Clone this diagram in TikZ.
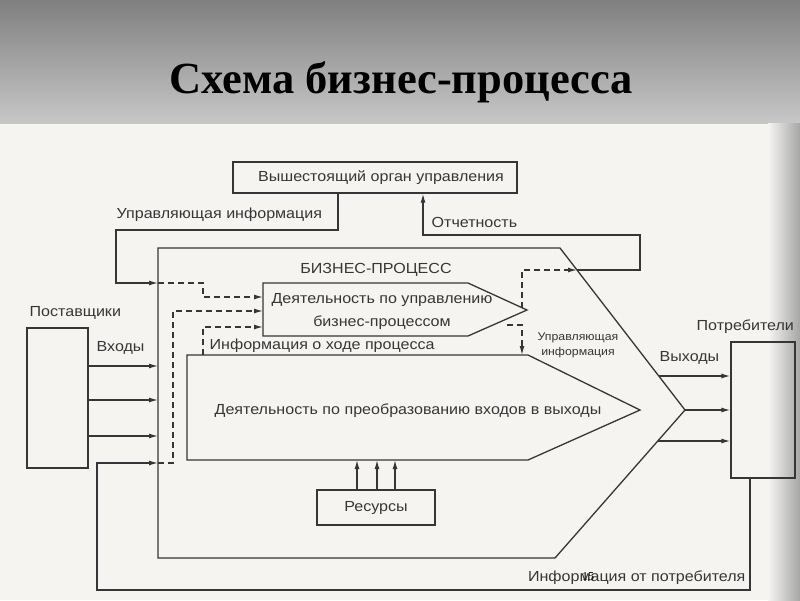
\documentclass[tikz,border=0pt]{standalone}
\usepackage{fontspec}
\setmainfont{Liberation Sans}[FakeStretch=1.1]
\newfontfamily\titlefont{Liberation Serif}
\usetikzlibrary{arrows.meta}

\definecolor{ink}{HTML}{363636}
\definecolor{paper}{HTML}{F6F4F1}

\begin{document}
\begin{tikzpicture}[x=1pt,y=-1pt,line width=1.3pt,draw=ink,
  >={Latex[length=9pt,width=5pt]},
  nodes={text=ink,font=\fontsize{14.6}{23}\selectfont},
  lbl/.style={inner sep=0pt},
  blk/.style={draw,line width=1.3pt},
  dashflow/.style={dash pattern=on 6pt off 4pt}]
	% background
	\fill[paper] (0,123) rectangle (800,600);
	\shade[top color=black!50,bottom color=black!22] (0,0) rectangle (800,123);
	\shade[left color=paper,right color=black!35] (768,123) rectangle (800,600);
	\useasboundingbox (0,0) rectangle (800,600);
	\node (title) [anchor=base,text=black,font=\titlefont\bfseries\fontsize{44.5}{50}\selectfont] at (401,93) {Схема бизнес-процесса};
	
	% boxes
	\node (boss) [blk,minimum width=284pt,minimum height=31pt] at (375,177.5) {};
	\node (bosstxt) [lbl] at (381,178) {Вышестоящий орган управления};
	\node (sup) [blk,minimum width=61pt,minimum height=140pt] at (57.5,398) {};
	\node (cons) [blk,minimum width=64pt,minimum height=136pt] at (763,410) {};
	\node (res) [blk,minimum width=118pt,minimum height=35pt] at (376,507.5) {Ресурсы};
	
	% business process outline
	\coordinate (bp1) at (158,248);
	\coordinate (bp2) at (560,248);
	\coordinate (bptip) at (685,410);
	\coordinate (bp4) at (555,558);
	\coordinate (bp5) at (158,558);
	\draw (bp1) -- (bp2) -- (bptip) -- (bp4) -- (bp5) -- cycle;
	\node (bpname) [lbl] at (376,270) {БИЗНЕС-ПРОЦЕСС};
	
	% management activity
	\coordinate (c1) at (263,283);
	\coordinate (c2) at (468,283);
	\coordinate (ctip) at (527,310);
	\coordinate (c4) at (468,336);
	\coordinate (c5) at (263,336);
	\draw (c1) -- (c2) -- (ctip) -- (c4) -- (c5) -- cycle;
	\node (ctrl) [lbl,align=center] at (382,311) {Деятельность по управлению\\бизнес-процессом};
	
	% transformation activity
	\coordinate (t1) at (187,355);
	\coordinate (t2) at (528,355);
	\coordinate (ttip) at (640,410);
	\coordinate (t4) at (528,460);
	\coordinate (t5) at (187,460);
	\draw (t1) -- (t2) -- (ttip) -- (t4) -- (t5) -- cycle;
	\node (conv) [lbl] at (408,411) {Деятельность по преобразованию входов в выходы};
	
	% ports
	\coordinate (uk) at (338,230);
	\coordinate (ul) at (116,283);
	\coordinate (ucd) at (203,283);
	\coordinate (cin1) at (263,297);
	\coordinate (cin2) at (263,311);
	\coordinate (cin3) at (263,327);
	\coordinate (infd) at (203,355);
	\coordinate (ot) at (423,235);
	\coordinate (rep1) at (577,270);
	\coordinate (rep2) at (640,235);
	\coordinate (ctrlup) at (522,308);
	\coordinate (ctrldn) at (507,325);
	\coordinate (ctl) at (522,355);
	\coordinate (fb1) at (750,590);
	\coordinate (fb2) at (97,463);
	\coordinate (fbd) at (173,463);
	\coordinate (out1) at (659,376);
	\coordinate (out3) at (658,441);
	
	% connectors
	\draw[->] (boss.south -| uk) -- (uk) -| (ul) -- (ul -| bp1);
	\draw[dashflow,->] (ul -| bp1) -- (ucd) |- (cin1);
	\draw[->] (rep1) -| (rep2) -| (boss.south -| ot);
	\draw[dashflow,->] (ctrlup) -- (ctrlup |- rep1) -- (rep1);
	\draw[dashflow,->] (ctrldn) -| (ctl);
	\draw[dashflow,->] (infd) |- (cin3);
	\draw[->] (cons.south -| fb1) -- (fb1) -| (fb2) -- (fb2 -| bp5);
	\draw[dashflow,->] (fb2 -| bp5) -- (fbd) |- (cin2);
	\foreach \y [count=\i] in {366,400,436} {
		\coordinate (in\i) at (158,\y);
		\draw[->] (sup.east |- in\i) -- (in\i);
	}
	\draw[->] (out1) -- (cons.west |- out1);
	\draw[->] (bptip) -- (cons.west |- bptip);
	\draw[->] (out3) -- (cons.west |- out3);
	\foreach \x [count=\i] in {357,377,395} {
		\coordinate (r\i) at (\x,460);
		\draw[->] (res.north -| r\i) -- (r\i);
	}
	
	% labels
	\node (lupr) [lbl,anchor=west] at (116,215) {Управляющая информация};
	\node (lotch) [lbl,anchor=west] at (431,222) {Отчетность};
	\node (lpost) [lbl,anchor=west] at (29,313) {Поставщики};
	\node (lvh) [lbl,anchor=west] at (96,348) {Входы};
	\node (linf) [lbl,anchor=west] at (209,346) {Информация о ходе процесса};
	\node (lupr2) [lbl,align=center,font=\fontsize{11.2}{15}\selectfont] at (578,345) {Управляющая\\информация};
	\node (lvyh) [lbl,anchor=west] at (659,358) {Выходы};
	\node (lcons) [lbl,anchor=west] at (696,327) {Потребители};
	\node (lfb) [lbl,anchor=east] at (746,578) {Информация от потребителя};
	\node (pg) [lbl,text=black,font=\titlefont\fontsize{12}{14}\selectfont] at (588,577) {15};
\end{tikzpicture}
\end{document}
